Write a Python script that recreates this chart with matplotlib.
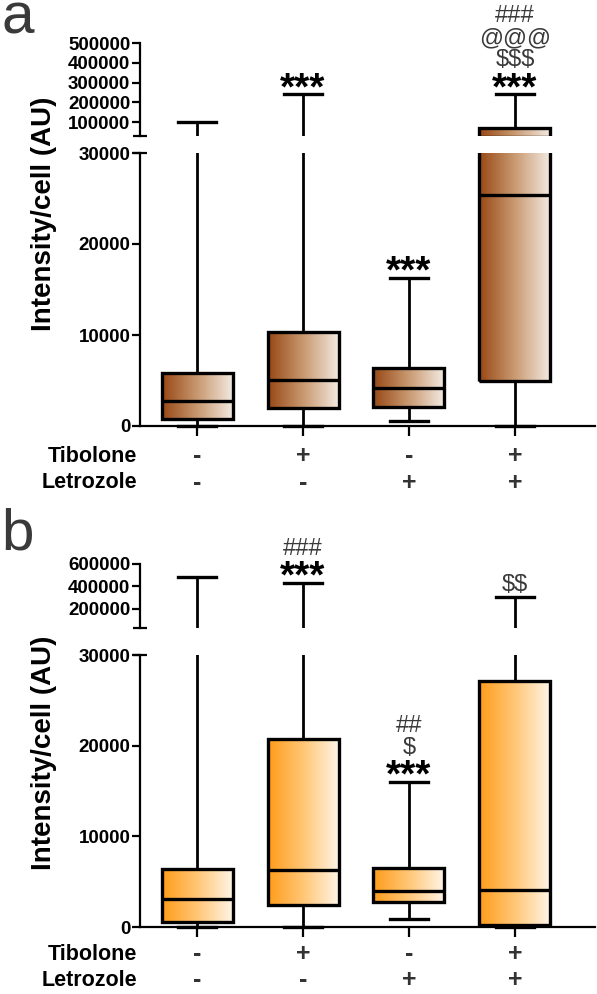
import numpy as np
import matplotlib
matplotlib.use('Agg')
import matplotlib.pyplot as plt
from matplotlib.colors import LinearSegmentedColormap
from matplotlib.transforms import blended_transform_factory

plt.rcParams['font.family'] = ['Liberation Sans', 'DejaVu Sans']

# ---- data ----
positions = [1, 2, 3, 4]
tibolone = ['-', '+', '-', '+']
letrozole = ['-', '-', '+', '+']

# panel a (box statistics, AU)
a_lo = [0, 0, 600, 0]
a_q1 = [800, 2000, 2100, 5000]
a_med = [2700, 5050, 4200, 25400]
a_q3 = [5800, 10300, 6400, 70000]
a_hi = [100000, 242000, 16300, 242000]
a_marks = [[], ['***'], ['***'], ['***', '$$$', '@@@', '###']]
a_top_ticks = [100000, 200000, 300000, 400000, 500000]

# panel b
b_lo = [0, 0, 900, 0]
b_q1 = [550, 2400, 2800, 200]
b_med = [3100, 6300, 4000, 4100]
b_q3 = [6400, 20700, 6500, 27100]
b_hi = [485000, 431000, 16000, 307000]
b_marks = [[], ['***', '###'], ['***', '$', '##'], ['$$']]
b_top_ticks = [200000, 400000, 600000]

low_ticks = [0, 10000, 20000, 30000]
brk = 30000

W, H = 597, 994
fig = plt.figure(figsize=(W / 100, H / 100), dpi=100)

X0, X1 = 140, 595
XLIM = (0.462, 4.755)
grad = np.linspace(0, 1, 256).reshape(1, -1)


def px_axes(y_top, y_bot):
	return fig.add_axes([X0 / W, 1 - y_bot / H, (X1 - X0) / W, (y_bot - y_top) / H])


def make_stats(lo, q1, med, q3, hi):
	return [dict(whislo=l, q1=a, med=m, q3=b, whishi=h, fliers=[])
	        for l, a, m, b, h in zip(lo, q1, med, q3, hi)]


def draw_boxes(ax, stats, cmap, ymin=None):
	res = ax.bxp(stats, positions=positions, widths=0.67, capwidths=0.35,
	             patch_artist=True, showfliers=False,
	             boxprops=dict(facecolor='none', edgecolor='black', linewidth=2.4),
	             whiskerprops=dict(color='black', linewidth=2.0),
	             capprops=dict(color='black', linewidth=2.4),
	             medianprops=dict(color='black', linewidth=2.4))
	for box, med, st, pos in zip(res['boxes'], res['medians'], stats, positions):
		if ymin is not None and st['q3'] <= ymin:
			# box lies fully below this segment
			box.set_visible(False)
			med.set_visible(False)
			continue
		im = ax.imshow(grad, cmap=cmap, aspect='auto', zorder=1.5,
		               extent=[pos - 0.335, pos + 0.335, st['q1'], st['q3']])
		im.set_clip_path(box)
	return res


def style_axis(ax):
	for s in ['top', 'right']:
		ax.spines[s].set_visible(False)
	ax.spines['left'].set_linewidth(1.6)
	ax.spines['bottom'].set_linewidth(1.6)
	ax.tick_params(axis='y', length=6, width=1.6, labelsize=13.5, pad=1)
	for lab in ax.get_yticklabels():
		lab.set_fontweight('bold')


def panel(stats, marks, top_ticks, cmap, top_px, low_px, rows_px, label_px, letter, letter_px):
	ax_t = px_axes(*top_px)
	ax_b = px_axes(*low_px)

	draw_boxes(ax_t, stats, cmap, ymin=brk)
	res = draw_boxes(ax_b, stats, cmap)
	for c in res['caps'][0::2]:
		c.set_clip_on(False)

	# top segment
	ax_t.set_xlim(*XLIM)
	ax_t.set_ylim(brk, top_ticks[-1])
	ax_t.set_yticks(top_ticks)
	ax_t.set_yticklabels([str(t) for t in top_ticks])
	ax_t.spines['bottom'].set_visible(False)
	ax_t.tick_params(axis='x', bottom=False, labelbottom=False)
	style_axis(ax_t)
	ax_t.plot([0], [0], marker='_', ms=10, mew=1.6, color='black',
	          transform=ax_t.transAxes, clip_on=False)

	# bottom segment
	ax_b.set_xlim(*XLIM)
	ax_b.set_ylim(0, brk)
	ax_b.set_yticks(low_ticks)
	ax_b.set_yticklabels([str(t) for t in low_ticks])
	ax_b.set_xticks(positions)
	ax_b.set_xticklabels([])
	ax_b.tick_params(axis='x', length=7, width=1.6)
	style_axis(ax_b)
	ax_b.plot([0], [1], marker='_', ms=10, mew=1.6, color='black',
	          transform=ax_b.transAxes, clip_on=False)

	# significance marks above whisker caps
	for pos, st, mk in zip(positions, stats, marks):
		ax = ax_t if st['whishi'] > brk else ax_b
		for i, m in enumerate(mk):
			if m == '***':
				ax.annotate(m, xy=(pos, st['whishi']), xytext=(0, -5 + 22 * i),
				            textcoords='offset pixels', ha='center', va='baseline',
				            fontsize=28, fontweight='bold', color='black',
				            annotation_clip=False, parse_math=False)
			else:
				ax.annotate(m, xy=(pos, st['whishi']), xytext=(0, 6 + 22 * i),
				            textcoords='offset pixels', ha='center', va='baseline',
				            fontsize=17, color='#3a3a3a', annotation_clip=False,
				            parse_math=False)

	# treatment rows
	tr = blended_transform_factory(ax_b.transData, fig.transFigure)
	for name, vals, y in zip(['Tibolone', 'Letrozole'], [tibolone, letrozole], rows_px):
		fig.text(137 / W, 1 - y / H, name, ha='right', va='center',
		         fontsize=15.5, fontweight='bold')
		for pos, v in zip(positions, vals):
			ax_b.text(pos, 1 - y / H, v, transform=tr, ha='center', va='center',
			          fontsize=18, fontweight='bold', color='#333333')

	fig.text(44 / W, 1 - label_px / H, 'Intensity/cell (AU)', rotation=90,
	         ha='center', va='center', fontsize=20, fontweight='bold')
	fig.text(1 / W, 1 - letter_px / H, letter, ha='left', va='baseline',
	         fontsize=42, color='#3a3a3a')


cmap_a = LinearSegmentedColormap.from_list('a', ['#984814', '#c99a72', '#f4ece4'])
cmap_b = LinearSegmentedColormap.from_list('b', ['#ff9c1a', '#ffc777', '#fff6ea'])

panel(make_stats(a_lo, a_q1, a_med, a_q3, a_hi), a_marks, a_top_ticks, cmap_a,
      (43, 136), (153, 426), (456, 483), 214, 'a', 33)
panel(make_stats(b_lo, b_q1, b_med, b_q3, b_hi), b_marks, b_top_ticks, cmap_b,
      (564, 628), (655, 927), (954, 980), 753, 'b', 550)

fig.savefig('out.png', dpi=100)
